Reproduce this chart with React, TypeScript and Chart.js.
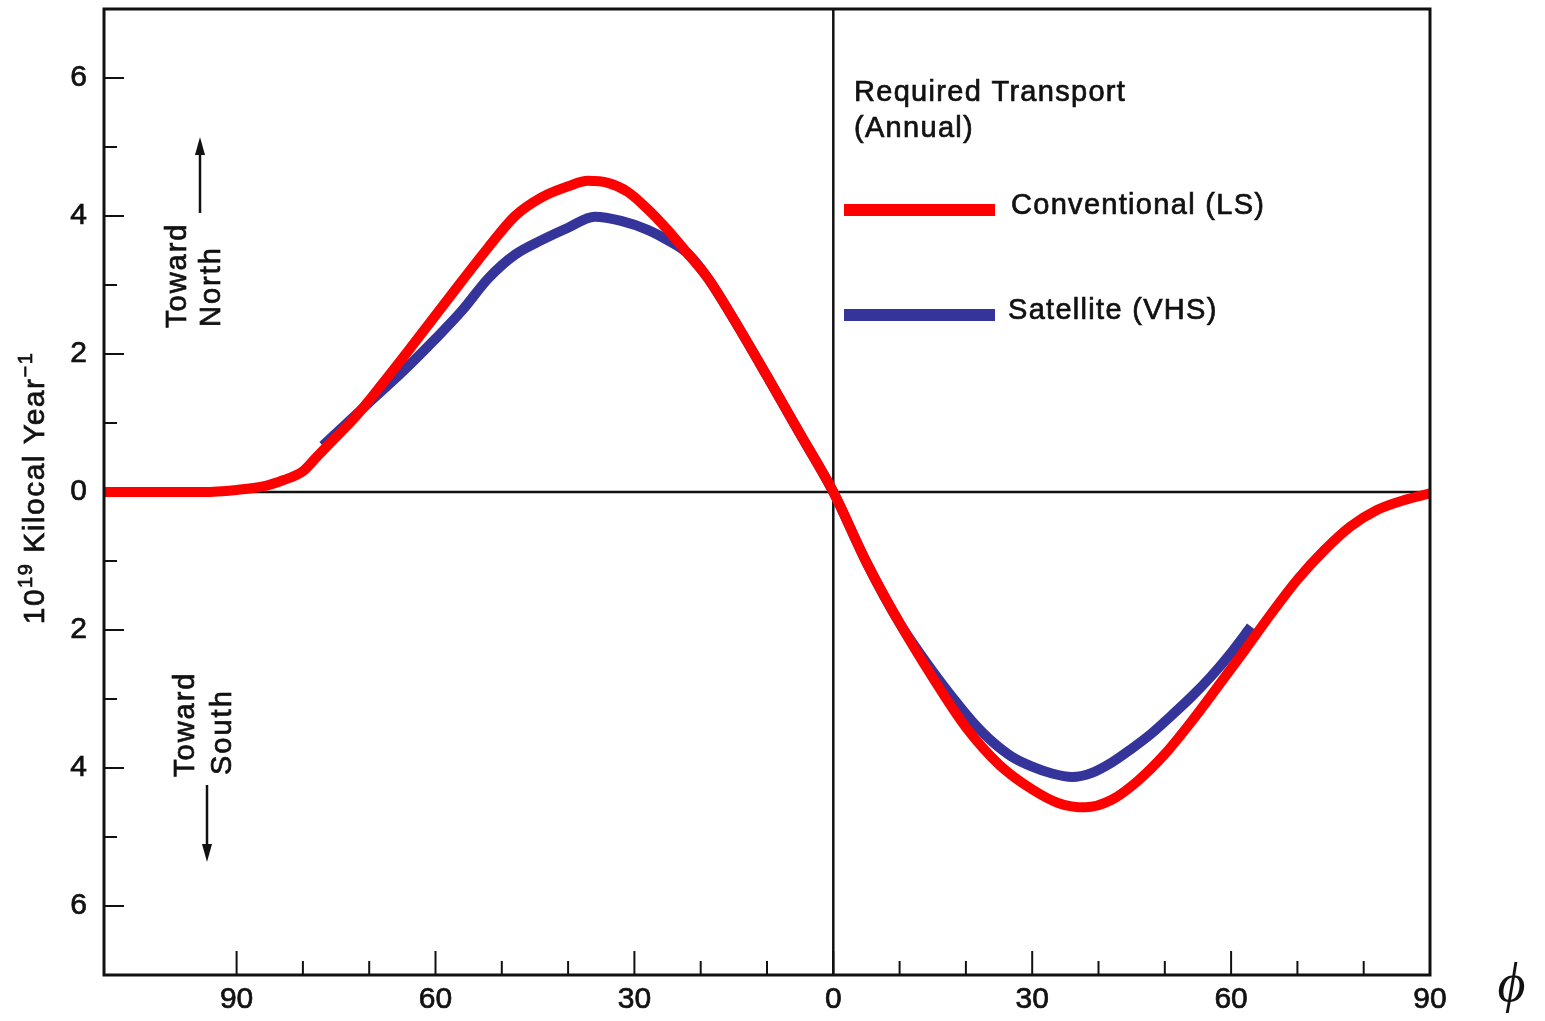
import React, { useEffect, useRef } from "react";
import { Chart, registerables } from "chart.js";

Chart.register(...registerables);

// Latitude in degrees: negative = southern hemisphere, positive = northern.
const conventionalLat = [
  -110, -100, -95, -90, -86, -83, -80, -78, -76, -72, -68, -64, -60, -56, -52,
  -48, -44, -40, -37, -34, -31, -28, -25, -22, -19, -15, -10, -5, 0, 5, 10, 15,
  20, 25, 30, 34, 38, 42, 46, 50, 54, 58, 62, 66, 70, 74, 78, 82, 86, 90,
];
// Required meridional energy transport, 10^19 kcal / year (positive = northward)
const conventional = [
  0.0, 0.0, 0.0, 0.03, 0.08, 0.17, 0.3, 0.5, 0.7, 1.1, 1.57, 2.06, 2.56, 3.06,
  3.55, 4.0, 4.27, 4.43, 4.51, 4.48, 4.35, 4.1, 3.8, 3.46, 3.11, 2.5, 1.68,
  0.84, 0.0, -1.02, -1.9, -2.69, -3.41, -3.95, -4.31, -4.51, -4.57, -4.46,
  -4.18, -3.8, -3.33, -2.82, -2.3, -1.77, -1.27, -0.85, -0.5, -0.26, -0.12,
  -0.02,
];

const satelliteLat = [
  -77, -74, -70, -65, -60, -56, -52, -48, -44, -40, -36, -32, -28, -25, -22,
  -19, -15, -10, -5, 0, 5, 10, 15, 18, 21, 24, 27, 30, 33, 36, 39, 42, 45, 48,
  51, 54, 57, 60, 63,
];
const satellite = [
  0.67, 0.94, 1.3, 1.74, 2.22, 2.63, 3.1, 3.44, 3.65, 3.83, 3.99, 3.93, 3.8,
  3.65, 3.46, 3.11, 2.5, 1.68, 0.84, 0.0, -1.02, -1.9, -2.6, -2.98, -3.33,
  -3.62, -3.84, -3.98, -4.08, -4.13, -4.07, -3.92, -3.72, -3.5, -3.24, -2.97,
  -2.67, -2.33, -1.95,
];

const xMin = -110;
const xMax = 90;
const yMin = -7;
const yMax = 7;
const xTickValues = [-90, -80, -70, -60, -50, -40, -30, -20, -10, 0, 10, 20, 30, 40, 50, 60, 70, 80, 90];
const yTickValues = [-6, -5, -4, -3, -2, -1, 0, 1, 2, 3, 4, 5, 6];

const legendTitle = ["Required Transport", "(Annual)"];
const seriesNames = ["Conventional (LS)", "Satellite (VHS)"];
const seriesColors = ["#ff0000", "#34349a"];

const SANS = '"Liberation Sans", Arial, Helvetica, sans-serif';
const INK = "#111111";

function line(ctx: CanvasRenderingContext2D, x1: number, y1: number, x2: number, y2: number) {
  ctx.beginPath();
  ctx.moveTo(x1, y1);
  ctx.lineTo(x2, y2);
  ctx.stroke();
}

// Filled text with a hairline outline for a slightly heavier print look
function inkText(ctx: CanvasRenderingContext2D, s: string, x: number, y: number) {
  ctx.fillText(s, x, y);
  ctx.lineWidth = 0.7;
  ctx.strokeText(s, x, y);
}

function arrow(ctx: CanvasRenderingContext2D, x: number, yFrom: number, yTip: number) {
  ctx.lineWidth = 2.5;
  const dir = yTip < yFrom ? -1 : 1;
  line(ctx, x, yFrom, x, yTip - dir * 14);
  ctx.beginPath();
  ctx.moveTo(x, yTip);
  ctx.lineTo(x - 5, yTip - dir * 18);
  ctx.lineTo(x + 5, yTip - dir * 18);
  ctx.closePath();
  ctx.fill();
}

// Rotated (bottom-to-top) text starting at (x, yStart)
function upText(ctx: CanvasRenderingContext2D, s: string, x: number, yStart: number, font: string) {
  ctx.save();
  ctx.translate(x, yStart);
  ctx.rotate(-Math.PI / 2);
  ctx.font = font;
  (ctx as any).letterSpacing = "2px";
  ctx.textAlign = "left";
  ctx.textBaseline = "middle";
  inkText(ctx, s, 0, 0);
  ctx.restore();
}

const framePlugin = {
  id: "frame",
  beforeDatasetsDraw(chart: any) {
    const { ctx, chartArea: a, scales } = chart;
    const xs = scales.x;
    const ys = scales.y;
    ctx.save();
    ctx.strokeStyle = INK;
    ctx.fillStyle = INK;
    ctx.lineCap = "butt";
    // zero axes
    ctx.lineWidth = 2.5;
    const x0 = xs.getPixelForValue(0);
    const y0 = ys.getPixelForValue(0);
    line(ctx, x0, a.top, x0, a.bottom);
    line(ctx, a.left, y0, a.right, y0);
    // inward tick marks
    ctx.lineWidth = 2;
    yTickValues.forEach((v) => {
      const py = ys.getPixelForValue(v);
      const len = v % 2 === 0 ? 20 : 13;
      line(ctx, a.left, py, a.left + len, py);
    });
    xTickValues.forEach((v) => {
      const px = xs.getPixelForValue(v);
      const len = v % 30 === 0 ? 24 : 14;
      line(ctx, px, a.bottom, px, a.bottom - len);
    });
    ctx.restore();
  },
  afterDatasetsDraw(chart: any) {
    const { ctx, chartArea: a } = chart;
    ctx.save();
    ctx.strokeStyle = INK;
    ctx.fillStyle = INK;
    // frame
    ctx.lineWidth = 3;
    ctx.strokeRect(a.left, a.top, a.right - a.left, a.bottom - a.top);

    // legend block
    ctx.font = `29px ${SANS}`;
    (ctx as any).letterSpacing = "1.3px";
    ctx.textAlign = "left";
    ctx.textBaseline = "middle";
    inkText(ctx, legendTitle[0], 854, 93);
    inkText(ctx, legendTitle[1], 854, 129);
    const rows = [210, 315];
    rows.forEach((ry, i) => {
      ctx.fillStyle = seriesColors[i];
      ctx.fillRect(844, ry - 6, 151, 12);
      ctx.fillStyle = INK;
      inkText(ctx, seriesNames[i], i === 0 ? 1011 : 1008, ry - 4);
    });

    // direction notes
    const noteFont = `29px ${SANS}`;
    upText(ctx, "Toward", 178, 328, noteFont);
    upText(ctx, "North", 212, 327, noteFont);
    arrow(ctx, 200, 213, 137);
    upText(ctx, "Toward", 186, 777, noteFont);
    upText(ctx, "South", 223, 775, noteFont);
    arrow(ctx, 207, 785, 862);

    // y-axis title with superscripts
    ctx.save();
    ctx.translate(33, 488);
    ctx.rotate(-Math.PI / 2);
    ctx.textAlign = "left";
    ctx.textBaseline = "alphabetic";
    (ctx as any).letterSpacing = "1.5px";
    const big = `30px ${SANS}`;
    const small = `20px ${SANS}`;
    const parts: [string, string, number][] = [
      ["10", big, 0],
      ["19", small, -12],
      [" Kilocal Year", big, 0],
      ["\u22121", small, -12],
    ];
    let total = 0;
    parts.forEach(([t, f]) => {
      ctx.font = f;
      total += ctx.measureText(t).width;
    });
    let cx = -total / 2;
    parts.forEach(([t, f, dy]) => {
      ctx.font = f;
      inkText(ctx, t, cx, 11 + dy);
      cx += ctx.measureText(t).width;
    });
    ctx.restore();

    // latitude symbol
    ctx.font = `italic 54px "Liberation Serif", "Times New Roman", serif`;
    ctx.textAlign = "center";
    ctx.textBaseline = "middle";
    ctx.fillText("\u03d5", 1512, 987);
    ctx.restore();
  },
};

export default function App() {
  const canvasRef = useRef<HTMLCanvasElement | null>(null);

  useEffect(() => {
    const canvas = canvasRef.current;
    if (!canvas) return;
    const chart = new Chart(canvas, {
      type: "line",
      data: {
        datasets: [
          {
            label: seriesNames[0],
            data: conventionalLat.map((x, i) => ({ x, y: conventional[i] })),
            borderColor: seriesColors[0],
            borderWidth: 10,
            pointRadius: 0,
            cubicInterpolationMode: "monotone",
            fill: false,
          },
          {
            label: seriesNames[1],
            data: satelliteLat.map((x, i) => ({ x, y: satellite[i] })),
            borderColor: seriesColors[1],
            borderWidth: 10,
            pointRadius: 0,
            cubicInterpolationMode: "monotone",
            fill: false,
          },
        ],
      },
      options: {
        animation: false,
        responsive: true,
        maintainAspectRatio: false,
        layout: { padding: { top: 9, right: 115, left: 0, bottom: 0 } },
        plugins: {
          legend: { display: false },
          tooltip: { enabled: false },
          title: { display: false },
        },
        scales: {
          x: {
            type: "linear",
            min: xMin,
            max: xMax,
            border: { display: false },
            grid: { display: false, drawTicks: false },
            afterFit: (s: any) => {
              s.height = 46;
              s.paddingLeft = 0;
              s.paddingRight = 0;
            },
            afterBuildTicks: (s: any) => {
              s.ticks = xTickValues.filter((v) => v % 30 === 0).map((v) => ({ value: v }));
            },
            ticks: {
              autoSkip: false,
              maxRotation: 0,
              padding: 7,
              color: INK,
              textStrokeColor: INK,
              textStrokeWidth: 0.7,
              font: { family: SANS, size: 30 },
              callback: (v: any) => String(Math.abs(Number(v))),
            },
          },
          y: {
            type: "linear",
            min: yMin,
            max: yMax,
            border: { display: false },
            grid: { display: false, drawTicks: false },
            afterFit: (s: any) => {
              s.width = 104;
              s.paddingTop = 0;
              s.paddingBottom = 0;
            },
            afterBuildTicks: (s: any) => {
              s.ticks = yTickValues.filter((v) => v % 2 === 0).map((v) => ({ value: v }));
            },
            ticks: {
              autoSkip: false,
              padding: 17,
              color: INK,
              textStrokeColor: INK,
              textStrokeWidth: 0.7,
              font: { family: SANS, size: 30 },
              callback: (v: any) => String(Math.abs(Number(v))),
            },
          },
        },
      },
      plugins: [framePlugin],
    } as any);
    return () => chart.destroy();
  }, []);

  return (
    <div
      style={{
        position: "fixed",
        left: 0,
        top: 0,
        width: 1545,
        height: 1021,
        background: "#ffffff",
      }}
    >
      <canvas ref={canvasRef} />
    </div>
  );
}
